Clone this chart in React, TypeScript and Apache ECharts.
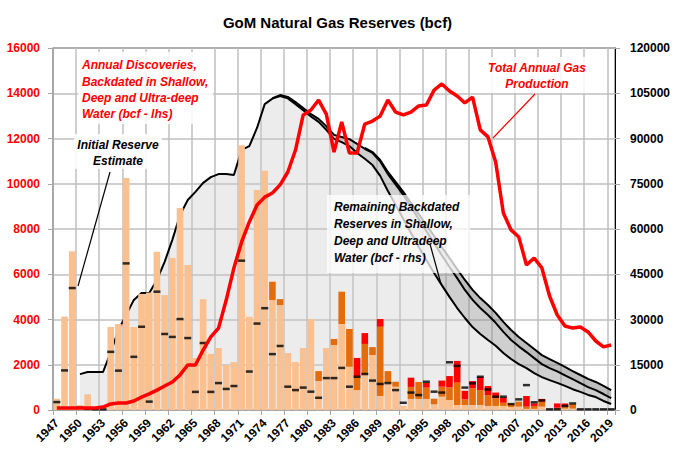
import React, { useEffect, useRef } from "react";
import * as echarts from "echarts";

const years = [
  "1947","1948","1949","1950","1951","1952","1953","1954","1955","1956",
  "1957","1958","1959","1960","1961","1962","1963","1964","1965","1966",
  "1967","1968","1969","1970","1971","1972","1973","1974","1975","1976",
  "1977","1978","1979","1980","1981","1982","1983","1984","1985","1986",
  "1987","1988","1989","1990","1991","1992","1993","1994","1995","1996",
  "1997","1998","1999","2000","2001","2002","2003","2004","2005","2006",
  "2007","2008","2009","2010","2011","2012","2013","2014","2015","2016",
  "2017","2018","2019",
];

// Annual discoveries, backdated (bcf, lhs)
const shallowDisc = [
  500, 4130, 7020, 220, 700, 0, 0, 3670, 3800, 10250,
  3670, 5130, 5190, 7000, 5080, 6720, 8930, 6410, 2300, 4900,
  2480, 2740, 1990, 2120, 11700, 4120, 9720, 10580, 4860, 4640,
  2520, 2120, 2740, 4020, 1280, 2740, 2870, 3800, 1910, 880,
  1590, 2430, 620, 1210, 1030, 180, 490, 490, 490, 250,
  590, 440, 220, 220, 220, 220, 180, 180, 180, 130,
  150, 50, 50, 150, 0, 40, 60, 60, 0, 0, 0, 0, 0,
];
const deepDisc = [
  0, 0, 0, 0, 0, 0, 0, 0, 0, 0,
  0, 0, 0, 0, 0, 0, 0, 0, 0, 0,
  0, 0, 0, 0, 0, 0, 0, 0, 810, 260,
  0, 0, 0, 0, 440, 0, 270, 1430, 1670, 620,
  1330, 350, 3060, 510, 220, 0, 530, 750, 500, 250,
  440, 560, 990, 250, 740, 660, 480, 340, 140, 160,
  220, 100, 130, 220, 0, 60, 90, 200, 0, 0, 0, 0, 0,
];
const ultraDisc = [
  0, 0, 0, 0, 0, 0, 0, 0, 0, 0,
  0, 0, 0, 0, 0, 0, 0, 0, 0, 0,
  0, 0, 0, 0, 0, 0, 0, 0, 0, 0,
  0, 0, 0, 0, 0, 0, 0, 0, 0, 800,
  480, 0, 340, 0, 0, 0, 410, 0, 210, 0,
  270, 500, 960, 380, 320, 590, 400, 250, 240, 0,
  0, 470, 110, 120, 0, 190, 140, 0, 0, 0, 0, 0, 0,
];
// Initial reserve estimate (bcf, lhs)
const initialEstimate = [
  350, 1750, 5390, 100, 50, 30, 30, 2570, 1740, 6480,
  2350, 3680, 370, 5230, 3360, 3230, 4020, 3180, 800, 2960,
  800, 1190, 930, 1060, 6600, 1700, 3820, 4500, 2470, 2830,
  1030, 880, 990, 810, 540, 1410, 1410, 1860, 1030, 1470,
  1590, 1300, 1150, 1190, 880, 320, 770, 660, 1250, 810,
  770, 2110, 1950, 990, 1180, 1470, 910, 590, 590, 260,
  470, 1100, 340, 420, 30, 30, 180, 290, 30, 30, 30, 30, 30,
];
// Total annual gas production (lhs scale)
const production = [
  90, 90, 90, 90, 90, 90, 130, 270, 310, 310,
  400, 570, 710, 880, 1060, 1240, 1550, 1990, 1990, 2650,
  3230, 3620, 4860, 6280, 7430, 8310, 9060, 9410, 9590, 9950,
  10520, 11490, 13040, 13260, 13700, 13080, 11400, 12730, 11360, 11360,
  12640, 12770, 12990, 13700, 13170, 13040, 13170, 13440, 13480, 14140,
  14410, 14100, 13880, 13570, 13830, 12380, 12070, 10960, 8710, 7960,
  7650, 6410, 6720, 6280, 5040, 4200, 3710, 3620, 3670, 3450, 3050, 2790, 2870,
];
// Remaining backdated reserves (bcf, rhs)
const shallowRes = [
  null, null, null, 11900, 12600, 12600, 12600, 19200, 26500, 31500,
  36500, 38800, 38800, 43100, 49100, 56400, 64600, 69600, 72300, 75300,
  77200, 78200, 78200, 77900, 86200, 87500, 93500, 101400, 103200, 104100,
  103300, 101400, 99400, 97300, 95500, 92900, 89900, 88800, 87500, 85200,
  83300, 81200, 77600, 72600, 68000, 63300, 58700, 54100, 49700, 45400,
  41400, 37500, 33800, 30500, 27500, 25200, 23200, 21300, 18900, 16900,
  15200, 13900, 12200, 10900, 9900, 9000, 8000, 6900, 6000, 5000, 4300, 3000, 2000,
];
const deepRes = [
  null, null, null, null, null, null, null, null, null, null,
  null, null, null, null, null, null, null, null, null, null,
  null, null, null, null, null, null, null, null, 200, 300,
  500, 700, 700, 800, 1000, 1200, 1300, 1700, 2300, 3000,
  3300, 4000, 4800, 5600, 6800, 8000, 8600, 9200, 9600, 10000,
  9900, 9900, 9900, 9300, 9000, 8600, 8300, 7600, 7000, 6300,
  5900, 5300, 5000, 4300, 4000, 3800, 3500, 3300, 2900, 2600, 2300, 2300, 1900,
];
const ultraRes = [
  null, null, null, null, null, null, null, null, null, null,
  null, null, null, null, null, null, null, null, null, null,
  null, null, null, null, null, null, null, null, null, null,
  null, null, null, null, null, null, null, null, null, null,
  300, 300, 500, 700, 800, 1000, 1300, 1700, 2000, 2300,
  2700, 3000, 3000, 3300, 3300, 3300, 3300, 3300, 3300, 3300,
  3100, 3000, 3000, 3000, 3000, 2800, 2800, 2700, 2700, 2700, 2700, 2700, 2700,
];

const leftTicks = { min: 0, max: 16000, interval: 2000 };
const rightTicks = { min: 0, max: 120000, interval: 15000 };

const FONT = '"Liberation Sans", Arial, sans-serif';

export default function App() {
  const ref = useRef<HTMLDivElement>(null);
  useEffect(() => {
    document.body.style.margin = "0";
    const chart = echarts.init(ref.current!, null, { renderer: "svg" });
    const annFont = (c: string) => ({
      fill: c,
      fontFamily: FONT,
      fontSize: 12,
      fontWeight: "bold",
      fontStyle: "italic",
    });
    const plain = (v: number) => String(v);
    chart.setOption({
      animation: false,
      backgroundColor: "#fff",
      textStyle: { fontFamily: FONT },
      title: {
        text: "GoM Natural Gas Reserves (bcf)",
        left: "center",
        top: 10,
        textStyle: { fontFamily: FONT, fontSize: 15, fontWeight: "bold", color: "#000" },
      },
      grid: {
        left: 53,
        right: 60,
        top: 48,
        bottom: 49,
        show: true,
        borderColor: "#000",
        borderWidth: 1,
        backgroundColor: "transparent",
      },
      xAxis: {
        type: "category",
        data: years,
        boundaryGap: true,
        axisLine: { lineStyle: { color: "#A6A6A6", width: 1.5 } },
        axisTick: { show: true, interval: 2, length: 5, lineStyle: { color: "#A6A6A6" } },
        axisLabel: {
          interval: 2,
          rotate: 45,
          margin: 11,
          color: "#000",
          fontWeight: "bold",
          fontSize: 12,
          fontFamily: FONT,
        },
        splitLine: { show: true, interval: 2, lineStyle: { color: "#BFBFBF", width: 1.5 } },
      },
      yAxis: [
        {
          type: "value",
          ...leftTicks,
          position: "left",
          axisLine: { show: true, lineStyle: { color: "#A6A6A6", width: 1.5 } },
          axisTick: { show: true, length: 5, lineStyle: { color: "#A6A6A6" } },
          axisLabel: { color: "#FF0000", fontWeight: "bold", fontSize: 12, margin: 13, fontFamily: FONT, formatter: plain },
          splitLine: { show: true, lineStyle: { color: "#BFBFBF", width: 1.5 } },
        },
        {
          type: "value",
          ...rightTicks,
          position: "right",
          axisLine: { show: true, lineStyle: { color: "#000", width: 1 } },
          axisTick: { show: true, length: 5, lineStyle: { color: "#A6A6A6" } },
          axisLabel: { color: "#000", fontWeight: "bold", fontSize: 12, margin: 15, fontFamily: FONT, formatter: plain },
          splitLine: { show: false },
        },
      ],
      series: [
        {
          name: "Shallow remaining",
          type: "line",
          yAxisIndex: 1,
          stack: "res",
          data: shallowRes,
          showSymbol: false,
          z: 1,
          lineStyle: { color: "#000", width: 2 },
          areaStyle: { color: "rgba(200,200,200,0.5)" },
        },
        {
          name: "Deep remaining",
          type: "line",
          yAxisIndex: 1,
          stack: "res",
          data: deepRes,
          showSymbol: false,
          z: 1,
          lineStyle: { color: "#000", width: 2 },
          areaStyle: { color: "rgba(140,140,140,0.6)" },
        },
        {
          name: "Ultra-deep remaining",
          type: "line",
          yAxisIndex: 1,
          stack: "res",
          data: ultraRes,
          showSymbol: false,
          z: 1,
          lineStyle: { color: "#000", width: 2 },
          areaStyle: { color: "rgba(110,110,110,0.65)" },
        },
        {
          name: "Shallow",
          type: "bar",
          stack: "disc",
          data: shallowDisc,
          barCategoryGap: "14%",
          itemStyle: { color: "#FAC090" },
          z: 2,
        },
        {
          name: "Deep",
          type: "bar",
          stack: "disc",
          data: deepDisc,
          itemStyle: { color: "#E46C0A" },
          z: 2,
        },
        {
          name: "Ultra-deep",
          type: "bar",
          stack: "disc",
          data: ultraDisc,
          itemStyle: { color: "#FF0000" },
          z: 2,
        },
        {
          name: "Initial Reserve Estimate",
          type: "scatter",
          data: initialEstimate,
          symbol: "rect",
          symbolSize: [7, 2.5],
          itemStyle: { color: "#000" },
          z: 3,
        },
        {
          name: "Total Annual Gas Production",
          type: "line",
          data: production,
          showSymbol: false,
          lineStyle: { color: "#FF0000", width: 3.5 },
          z: 4,
        },
      ],
      graphic: [
        { type: "rect", z: 90, shape: { x: 78, y: 52, width: 135, height: 72 }, style: { fill: "rgba(255,255,255,0.85)" } },
        {
          type: "text", z: 100, x: 82, y: 57,
          style: {
            text: "Annual Discoveries,\nBackdated in Shallow,\nDeep and Ultra-deep\nWater (bcf - lhs)",
            ...annFont("#FF0000"), textAlign: "left", textVerticalAlign: "top", lineHeight: 16.4,
          },
        },
        { type: "rect", z: 90, shape: { x: 74, y: 134, width: 88, height: 35 }, style: { fill: "rgba(255,255,255,0.85)" } },
        {
          type: "text", z: 100, x: 118, y: 137,
          style: {
            text: "Initial Reserve\nEstimate",
            ...annFont("#000"), textAlign: "center", textVerticalAlign: "top", lineHeight: 16,
          },
        },
        { type: "line", z: 95, shape: { x1: 110, y1: 172, x2: 78, y2: 286 }, style: { stroke: "#000", lineWidth: 1.2 } },
        { type: "rect", z: 90, shape: { x: 484, y: 57, width: 108, height: 36 }, style: { fill: "rgba(255,255,255,0.85)" } },
        {
          type: "text", z: 100, x: 537, y: 60,
          style: {
            text: "Total Annual Gas\nProduction",
            ...annFont("#FF0000"), textAlign: "center", textVerticalAlign: "top", lineHeight: 16,
          },
        },
        { type: "line", z: 95, shape: { x1: 535, y1: 94, x2: 493, y2: 138 }, style: { stroke: "#FF0000", lineWidth: 1.2 } },
        { type: "rect", z: 90, shape: { x: 327, y: 195, width: 143, height: 78 }, style: { fill: "rgba(255,255,255,0.75)" } },
        {
          type: "text", z: 100, x: 334, y: 198,
          style: {
            text: "Remaining Backdated\nReserves in Shallow,\nDeep and Ultradeep\nWater (bcf - rhs)",
            ...annFont("#000"), textAlign: "left", textVerticalAlign: "top", lineHeight: 17,
          },
        },
        { type: "line", z: 95, shape: { x1: 430, y1: 244, x2: 441, y2: 284 }, style: { stroke: "#000", lineWidth: 1.2 } },
      ],
    });
    return () => chart.dispose();
  }, []);
  return <div ref={ref} style={{ width: 675, height: 459 }} />;
}
